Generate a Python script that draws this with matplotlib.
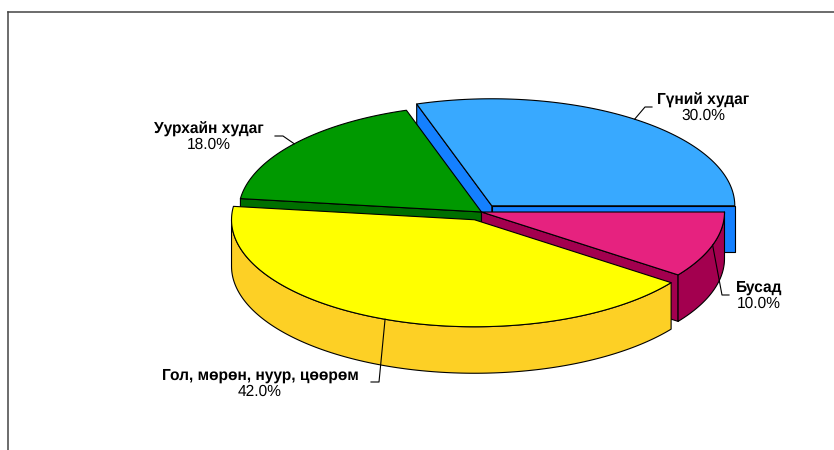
import numpy as np
import matplotlib
matplotlib.use('Agg')
import matplotlib.pyplot as plt
from matplotlib.patches import Polygon

# Data --------------------------------------
categories = ['Гүний худаг', 'Уурхайн худаг', 'Гол, мөрөн, нуур, цөөрөм', 'Бусад']
values = [30.0, 18.0, 42.0, 10.0]

# Style -------------------------------------
top_colors = ['#38A9FF', '#009900', '#FFFF00', '#E6227F']
side_colors = ['#1480FF', '#006F00', '#FDD025', '#A3004F']
explode = [0.072, 0.0, 0.078, 0.0]
draw_order = [0, 1, 3, 2]
label_xy = [(703, 100), (209, 129), (260, 376), (759, 288)]
elbows = [[(645, 107), (652, 107)], [(283, 136), (275, 136)],
          [(379, 382), (371, 382)], [(722, 295), (729, 295)]]

cx, cy = 481.5, 212
rx, ry = 243, 107
depth = 46.5

plt.rcParams['font.family'] = ['Liberation Sans', 'DejaVu Sans']
plt.rcParams['text.hinting'] = 'none'

fig = plt.figure(figsize=(8.34, 4.5), dpi=100)
ax = fig.add_axes([0, 0, 1, 1])
ax.set_xlim(0, 834)
ax.set_ylim(450, 0)
ax.axis('off')

# frame, only top and left are inside the picture
ax.plot([8, 834], [12, 12], color='#444444', lw=1.1)
ax.plot([8, 8], [12, 450], color='#444444', lw=1.1)

fracs = np.array(values) / sum(values) * 360
starts = np.concatenate([[0], np.cumsum(fracs)[:-1]])


def rim(x0, y0, a1, a2, n=150):
    t = np.radians(np.linspace(a1, a2, n))
    return np.column_stack([x0 + rx * np.cos(t), y0 - ry * np.sin(t)])


def face(pts, color, z):
    ax.add_patch(Polygon(pts, closed=True, facecolor=color, edgecolor='black',
                         lw=0.8, joinstyle='round', zorder=z))


for order, i in enumerate(draw_order):
    a1 = starts[i]
    a2 = a1 + fracs[i]
    mid = np.radians((a1 + a2) / 2)
    x0 = cx + explode[i] * rx * np.cos(mid)
    y0 = cy - explode[i] * ry * np.sin(mid)
    z = 2 + order * 3
    apex = np.array([x0, y0])
    down = np.array([0, depth])

    # cut faces that look towards the viewer
    for a, normal in ((a1, a1 - 90), (a2, a2 + 90)):
        if np.sin(np.radians(normal)) < 0:
            p = rim(x0, y0, a, a, 1)[0]
            face([apex, p, p + down, apex + down], side_colors[i], z)

    # outer wall, front half of the ellipse only
    lo = max(a1, 180)
    hi = min(a2, 360)
    if hi > lo:
        arc = rim(x0, y0, lo, hi)
        face(np.vstack([arc, (arc + down)[::-1]]), side_colors[i], z + 1)

    face(np.vstack([[apex], rim(x0, y0, a1, a2)]), top_colors[i], z + 2)

    # leader line from the middle of the slice
    start = rim(x0, y0, np.degrees(mid), np.degrees(mid), 1)[0]
    xs = [start[0]] + [e[0] for e in elbows[i]]
    ys = [start[1]] + [e[1] for e in elbows[i]]
    ax.plot(xs, ys, color='black', lw=0.8, zorder=30)

    tx, ty = label_xy[i]
    ax.text(tx, ty, categories[i], fontsize=11.2, fontweight='bold',
            ha='center', va='center', color='black', zorder=31)
    ax.text(tx, ty + 16, '%.1f%%' % values[i], fontsize=11.2,
            ha='center', va='center', color='black', zorder=31)

plt.savefig('out.png', dpi=100)
